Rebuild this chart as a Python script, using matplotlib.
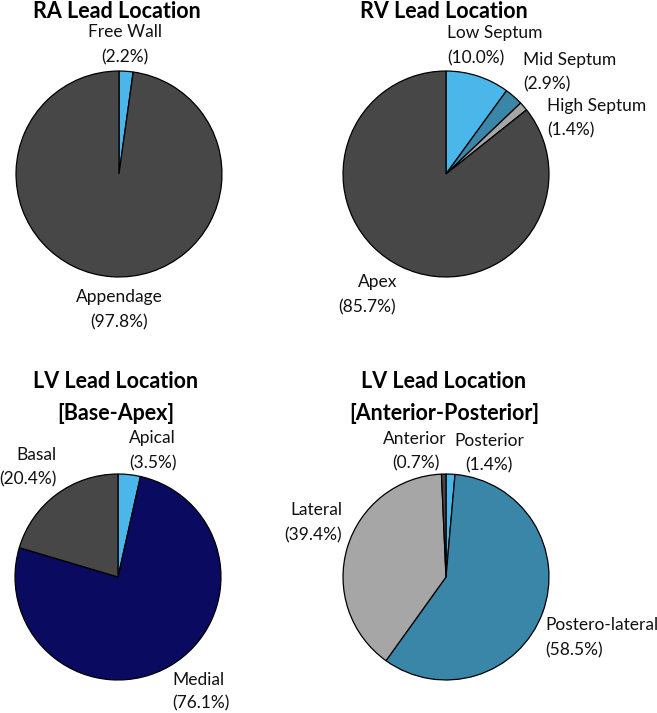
import matplotlib
matplotlib.use('Agg')
import matplotlib.pyplot as plt

# data
ra_labels = ['Free Wall', 'Appendage']
ra_values = [2.2, 97.8]

rv_labels = ['Low Septum', 'Mid Septum', 'High Septum', 'Apex']
rv_values = [10.0, 2.9, 1.4, 85.7]

lvba_labels = ['Apical', 'Medial', 'Basal']
lvba_values = [3.5, 76.1, 20.4]

lvap_labels = ['Posterior', 'Postero-lateral', 'Lateral', 'Anterior']
lvap_values = [1.4, 58.5, 39.4, 0.7]

LBLUE = '#4bb6ea'
STEEL = '#3a86a9'
LGRAY = '#a6a6a6'
DGRAY = '#474747'
NAVY = '#0a0a60'

ra_colors = [LBLUE, DGRAY]
rv_colors = [LBLUE, STEEL, LGRAY, DGRAY]
lvba_colors = [LBLUE, NAVY, DGRAY]
lvap_colors = [LBLUE, STEEL, LGRAY, DGRAY]

plt.rcParams['font.family'] = ['Lato', 'DejaVu Sans']

W, H = 657, 713
fig = plt.figure(figsize=(W / 100, H / 100), dpi=100)


def px_axes(cx, cy, r):
    return fig.add_axes([(cx - r) / W, 1 - (cy + r) / H, 2 * r / W, 2 * r / H])


def ftext(x, y, s, ha='center', **kw):
    fig.text(x / W, 1 - y / H, s, ha=ha, va='center', **kw)


def draw_pie(ax, values, colors):
    ax.pie(values, colors=colors, startangle=90, counterclock=False,
           wedgeprops=dict(edgecolor='black', linewidth=0.9), radius=1.0)
    ax.set_xlim(-1.01, 1.01)
    ax.set_ylim(-1.01, 1.01)
    ax.set_aspect('equal')
    ax.axis('off')


lab = dict(fontsize=12.5, color='#111111')
tit = dict(fontsize=15.5, fontweight='bold', color='black')

# RA
draw_pie(px_axes(119, 174, 104), ra_values, ra_colors)
ftext(117, 11, 'RA Lead Location', **tit)
ftext(125, 32, ra_labels[0], **lab)
ftext(125, 57, '(%.1f%%)' % ra_values[0], **lab)
ftext(119, 297, ra_labels[1], **lab)
ftext(119, 322, '(%.1f%%)' % ra_values[1], **lab)

# RV
draw_pie(px_axes(446, 174, 104), rv_values, rv_colors)
ftext(444, 11, 'RV Lead Location', **tit)
ftext(447, 33, rv_labels[0], ha='left', **lab)
ftext(447, 58, '(%.1f%%)' % rv_values[0], ha='left', **lab)
ftext(523, 60, rv_labels[1], ha='left', **lab)
ftext(523, 84, '(%.1f%%)' % rv_values[1], ha='left', **lab)
ftext(547, 106, rv_labels[2], ha='left', **lab)
ftext(547, 130, '(%.1f%%)' % rv_values[2], ha='left', **lab)
ftext(397, 282, rv_labels[3], ha='right', **lab)
ftext(396, 307, '(%.1f%%)' % rv_values[3], ha='right', **lab)

# LV base-apex
draw_pie(px_axes(118, 577, 104), lvba_values, lvba_colors)
ftext(116, 381, 'LV Lead Location', **tit)
ftext(116, 413, '[Base-Apex]', **tit)
ftext(152, 438, lvba_labels[0], **lab)
ftext(153, 463, '(%.1f%%)' % lvba_values[0], **lab)
ftext(172, 680, lvba_labels[1], ha='left', **lab)
ftext(172, 703, '(%.1f%%)' % lvba_values[1], ha='left', **lab)
ftext(57, 455, lvba_labels[2], ha='right', **lab)
ftext(57, 479, '(%.1f%%)' % lvba_values[2], ha='right', **lab)

# LV anterior-posterior
draw_pie(px_axes(446, 577, 104), lvap_values, lvap_colors)
ftext(444, 381, 'LV Lead Location', **tit)
ftext(444, 413, '[Anterior-Posterior]', **tit)
ftext(489, 441, lvap_labels[0], **lab)
ftext(489, 465, '(%.1f%%)' % lvap_values[0], **lab)
ftext(545, 625, lvap_labels[1], ha='left', **lab)
ftext(545, 650, '(%.1f%%)' % lvap_values[1], ha='left', **lab)
ftext(342, 510, lvap_labels[2], ha='right', **lab)
ftext(342, 535, '(%.1f%%)' % lvap_values[2], ha='right', **lab)
ftext(415, 439, lvap_labels[3], **lab)
ftext(416, 463, '(%.1f%%)' % lvap_values[3], **lab)

fig.savefig('out.png', dpi=100, facecolor='white')
